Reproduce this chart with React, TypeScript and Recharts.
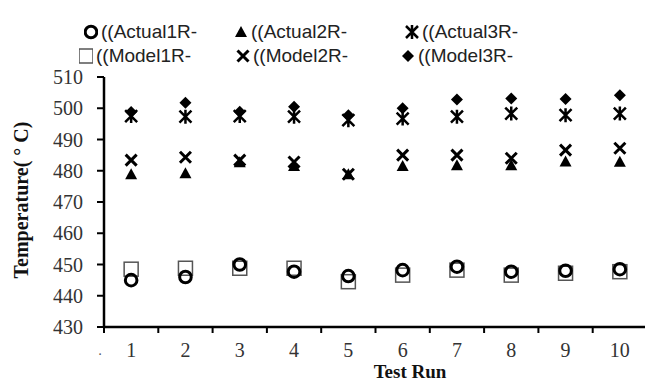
import React from "react"
import { ComposedChart, Scatter, XAxis, YAxis } from "recharts"

const runs = [1, 2, 3, 4, 5, 6, 7, 8, 9, 10]
const actual1 = [445, 446, 450, 447.7, 446.3, 448.2, 449.3, 447.7, 448, 448.5]
const model1 = [448.5, 448.8, 448.8, 448.8, 444.5, 446.6, 448.2, 446.6, 447.2, 447.7]
const actual2 = [478.9, 479.2, 482.7, 481.5, 478.9, 481.5, 481.8, 481.8, 483, 482.9]
const model2 = [483.4, 484.3, 483.4, 482.8, 478.9, 485, 485, 484, 486.6, 487.2]
const actual3 = [497.5, 497.3, 497.5, 497.3, 496.2, 496.7, 497.3, 498.3, 497.8, 498.3]
const model3 = [498.8, 501.8, 498.9, 500.5, 497.8, 500, 502.8, 503.1, 503, 504.2]

const yTicks = [430, 440, 450, 460, 470, 480, 490, 500, 510]
// tick marks sit on the category boundaries, labels in between
const xBounds = [0.5, 1.5, 2.5, 3.5, 4.5, 5.5, 6.5, 7.5, 8.5, 9.5, 10.5]

const data = runs.map((run, i) => ({
  run,
  actual1: actual1[i],
  model1: model1[i],
  actual2: actual2[i],
  model2: model2[i],
  actual3: actual3[i],
  model3: model3[i],
}))

const W = 650
const H = 380
const LEFT = 104
const TOP = 77
const BOTTOM = 53
const RIGHT = 3
const HALF_BAND = (W - LEFT - RIGHT) / runs.length / 2

const serif = "'Liberation Serif', 'Times New Roman', serif"
const sans = "'Liberation Sans', Arial, sans-serif"

type Mark = (cx: number, cy: number) => React.ReactElement

const circleMark: Mark = (cx, cy) => (
  <circle cx={cx} cy={cy} r={5.8} fill="none" stroke="#000" strokeWidth={3} />
)
const squareMark: Mark = (cx, cy) => (
  <rect x={cx - 7} y={cy - 7} width={14} height={14} fill="none" stroke="#555" strokeWidth={1.5} />
)
const triangleMark: Mark = (cx, cy) => (
  <path d={`M${cx},${cy - 6} L${cx + 6},${cy + 5} L${cx - 6},${cy + 5} Z`} fill="#000" />
)
const crossMark: Mark = (cx, cy) => (
  <path
    d={`M${cx - 5.5},${cy - 5.5} L${cx + 5.5},${cy + 5.5} M${cx + 5.5},${cy - 5.5} L${cx - 5.5},${cy + 5.5}`}
    stroke="#000"
    strokeWidth={3}
  />
)
const starMark: Mark = (cx, cy) => (
  <path
    d={`M${cx - 6},${cy - 6} L${cx + 6},${cy + 6} M${cx + 6},${cy - 6} L${cx - 6},${cy + 6} M${cx},${cy - 7} L${cx},${cy + 7}`}
    stroke="#000"
    strokeWidth={2.5}
  />
)
const diamondMark: Mark = (cx, cy) => (
  <path d={`M${cx},${cy - 6} L${cx + 6},${cy} L${cx},${cy + 6} L${cx - 6},${cy} Z`} fill="#000" />
)

const shapeOf = (mark: Mark) => (props: any) => mark(props.cx, props.cy)

const legendItems = [
  { label: "((Actual1R-", mark: circleMark, x: 84, y: 22 },
  { label: "((Actual2R-", mark: triangleMark, x: 234, y: 22 },
  { label: "((Actual3R-", mark: starMark, x: 405, y: 22 },
  { label: "((Model1R-", mark: squareMark, x: 79, y: 46 },
  { label: "((Model2R-", mark: crossMark, x: 236, y: 46 },
  { label: "((Model3R-", mark: diamondMark, x: 401, y: 46 },
]

function LegendBox() {
  return (
    <div style={{ position: "absolute", left: 0, top: 0, width: 645, height: 70 }}>
      {legendItems.map((it) => (
        <div
          key={it.label}
          style={{ position: "absolute", left: it.x, top: it.y, display: "flex", alignItems: "center" }}
        >
          <svg width={14} height={20} style={{ marginRight: 3 }}>
            {it.mark(7, 10)}
          </svg>
          <span style={{ fontFamily: sans, fontSize: 19, color: "#222", lineHeight: "20px" }}>
            {it.label}
          </span>
        </div>
      ))}
    </div>
  )
}

function RunTick(props: any) {
  const { x, y, payload } = props
  const v = payload.value as number
  if (v > 10) return <g />
  return (
    <g>
      {v === 0.5 && (
        <text x={x - 4} y={y + 24} fontFamily={serif} fontSize={14} fill="#555" textAnchor="middle">
          ·
        </text>
      )}
      <text x={x + HALF_BAND} y={y + 22} fontFamily={serif} fontSize={20} fill="#333" textAnchor="middle">
        {v + 0.5}
      </text>
    </g>
  )
}

export default function App() {
  return (
    <div style={{ position: "fixed", left: 0, top: 0, width: 645, height: 380, overflow: "hidden", background: "#fff" }}>
      <ComposedChart width={W} height={H} data={data} margin={{ top: TOP, right: RIGHT, bottom: 0, left: 0 }}>
        <XAxis
          dataKey="run"
          type="number"
          domain={[0.5, 10.5]}
          ticks={xBounds}
          interval={0}
          height={BOTTOM}
          axisLine={{ stroke: "#000", strokeWidth: 2.5 }}
          tickLine={{ stroke: "#000", strokeWidth: 2 }}
          tickSize={6}
          tick={<RunTick />}
        />
        <YAxis
          type="number"
          domain={[430, 510]}
          ticks={yTicks}
          interval={0}
          width={LEFT}
          axisLine={{ stroke: "#000", strokeWidth: 2.5 }}
          tickLine={{ stroke: "#000", strokeWidth: 2 }}
          tickSize={7}
          tickMargin={14}
          tick={{ fontFamily: serif, fontSize: 20, fill: "#333" }}
        />
        <Scatter name="((Model1R-" dataKey="model1" shape={shapeOf(squareMark)} isAnimationActive={false} />
        <Scatter name="((Actual1R-" dataKey="actual1" shape={shapeOf(circleMark)} isAnimationActive={false} />
        <Scatter name="((Actual2R-" dataKey="actual2" shape={shapeOf(triangleMark)} isAnimationActive={false} />
        <Scatter name="((Model2R-" dataKey="model2" shape={shapeOf(crossMark)} isAnimationActive={false} />
        <Scatter name="((Model3R-" dataKey="model3" shape={shapeOf(diamondMark)} isAnimationActive={false} />
        <Scatter name="((Actual3R-" dataKey="actual3" shape={shapeOf(starMark)} isAnimationActive={false} />
      </ComposedChart>
      <LegendBox />
      <div
        style={{
          position: "absolute",
          left: 21,
          top: 200,
          transform: "translate(-50%, -50%) rotate(-90deg)",
          fontFamily: serif,
          fontWeight: "bold",
          fontSize: 20,
          color: "#111",
          whiteSpace: "nowrap",
        }}
      >
        Temperature( ° C)
      </div>
      <div
        style={{
          position: "absolute",
          left: 410,
          top: 371,
          transform: "translate(-50%, -50%)",
          fontFamily: serif,
          fontWeight: "bold",
          fontSize: 19,
          lineHeight: "17px",
          color: "#111",
          whiteSpace: "nowrap",
        }}
      >
        Test Run
      </div>
    </div>
  )
}
